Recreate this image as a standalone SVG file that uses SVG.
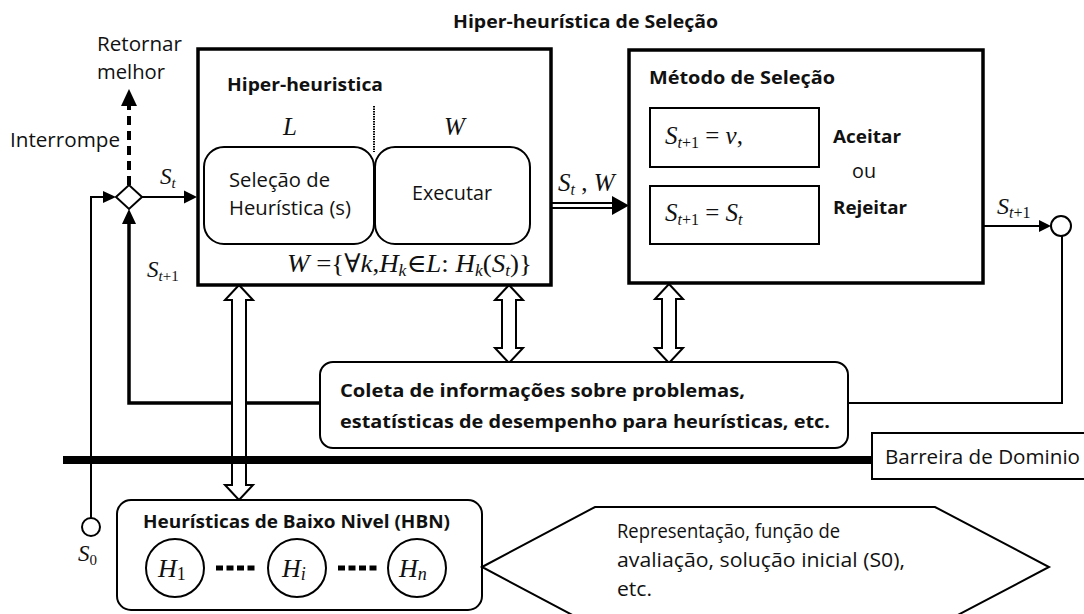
<svg xmlns="http://www.w3.org/2000/svg" width="1084" height="614" viewBox="0 0 1084 614">
<style>
.sans{font-family:"Open Sans",Lato,"Liberation Sans",sans-serif;fill:#111}
.b{font-weight:bold}
.m{font-family:"Liberation Serif","DejaVu Serif",serif;font-style:italic;fill:#111}
.mr{font-family:"Liberation Serif","DejaVu Serif",serif;font-style:normal;fill:#111}
.box{fill:#fff;stroke:#000;stroke-width:3.5}
.rbox{fill:#fff;stroke:#000;stroke-width:2}
.ln{fill:none;stroke:#000;stroke-width:2}
.hd{fill:#000;stroke:none}
.dbl{fill:#fff;stroke:#000;stroke-width:2;stroke-linejoin:miter}
</style>
<rect width="1084" height="614" fill="#fff"/>
<text class="sans b" x="453" y="28" font-size="18" textLength="265" lengthAdjust="spacingAndGlyphs">Hiper-heurística de Seleção</text>

<g id="connectors">
  <polyline class="ln" points="91,518 91,197 104,197"/>
  <polygon class="hd" points="103,191 116,197 103,203"/>
  <line class="ln" x1="142" y1="197" x2="186" y2="197"/>
  <polygon class="hd" points="184,190.5 197,197 184,203.5"/>
  <polyline fill="none" stroke="#000" stroke-width="3.5" points="320,403 129,403 129,222"/>
  <polygon class="hd" points="122,224 129,209 136,224"/>
  <line x1="129" y1="185" x2="129" y2="104" stroke="#000" stroke-width="4" stroke-dasharray="9 6"/>
  <polygon class="hd" points="121,106 129,89 137,106"/>
  <line class="ln" x1="551" y1="203" x2="614" y2="203" stroke-width="2.5"/>
  <line class="ln" x1="551" y1="208" x2="614" y2="208" stroke-width="2.5"/>
  <polygon class="hd" points="612,196 629,205.5 612,215"/>
  <line class="ln" x1="983" y1="226" x2="1042" y2="226"/>
  <polygon class="hd" points="1039,220 1051,226 1039,232"/>
  <polyline class="ln" points="1062,236 1062,403 848,403"/>
  <path class="dbl" d="M239,285 L253,300 L246,300 L246,485 L253,485 L239,500 L225,485 L232,485 L232,300 L225,300 Z"/>
  <path class="dbl" d="M509,285 L523,300 L516,300 L516,348 L523,348 L509,363 L495,348 L502,348 L502,300 L495,300 Z"/>
  <path class="dbl" d="M669,284 L683,299 L676,299 L676,348 L683,348 L669,363 L655,348 L662,348 L662,299 L655,299 Z"/>
  <line x1="63" y1="460" x2="873" y2="460" stroke="#000" stroke-width="8"/>
</g>

<g id="diamond">
  <polygon points="116,197 129,185 142,197 129,209" fill="#fff" stroke="#000" stroke-width="2"/>
</g>
<g id="labels-left">
  <text class="sans" x="97" y="51" font-size="19.5" textLength="85" lengthAdjust="spacingAndGlyphs">Retornar</text>
  <text class="sans" x="97" y="79" font-size="19.5" textLength="68" lengthAdjust="spacingAndGlyphs">melhor</text>
  <text class="sans" x="10" y="147" font-size="19.5" textLength="110" lengthAdjust="spacingAndGlyphs">Interrompe</text>
  <text class="m" x="160" y="184" font-size="23">S<tspan font-size="15" dy="4">t</tspan></text>
  <text class="m" x="147" y="277" font-size="23">S<tspan font-size="15" dy="4">t</tspan><tspan class="mr" font-size="15">+1</tspan></text>
</g>

<g id="s0">
  <circle cx="91" cy="527" r="9" fill="#fff" stroke="#000" stroke-width="2"/>
  <text class="m" x="78" y="561" font-size="23">S<tspan class="mr" font-size="15" dy="4">0</tspan></text>
</g>

<g id="hiper-heuristica">
  <rect class="box" x="198" y="49" width="353" height="236"/>
  <text class="sans b" x="227" y="91" font-size="18" textLength="156" lengthAdjust="spacingAndGlyphs">Hiper-heuristica</text>
  <line x1="374" y1="106" x2="374" y2="152" stroke="#000" stroke-width="2" stroke-dasharray="1.5 1"/>
  <text class="m" x="283" y="135" font-size="25">L</text>
  <text class="m" x="444" y="135" font-size="25">W</text>
  <rect class="rbox" x="204" y="147" width="170" height="97" rx="20"/>
  <rect class="rbox" x="375" y="147" width="155" height="97" rx="20"/>
  <text class="sans" x="229" y="187" font-size="19.5" textLength="101" lengthAdjust="spacingAndGlyphs">Seleção de</text>
  <text class="sans" x="229" y="215" font-size="19.5" textLength="122" lengthAdjust="spacingAndGlyphs">Heurística (s)</text>
  <text class="sans" x="412" y="200" font-size="19.5" textLength="80" lengthAdjust="spacingAndGlyphs">Executar</text>
  <text class="m" x="287" y="272" font-size="26" textLength="245" lengthAdjust="spacingAndGlyphs">W<tspan class="mr"> ={∀</tspan>k<tspan class="mr">,</tspan>H<tspan font-size="17" dy="4">k</tspan><tspan class="mr" dy="-4">∈</tspan>L<tspan class="mr">: </tspan>H<tspan font-size="17" dy="4">k</tspan><tspan class="mr" dy="-4">(</tspan>S<tspan font-size="17" dy="4">t</tspan><tspan class="mr" dy="-4">)}</tspan></text>
</g>

<text class="m" x="558" y="191" font-size="25">S<tspan font-size="16" dy="4">t</tspan><tspan class="mr" dy="-4"> , </tspan>W</text>

<g id="metodo-selecao">
  <rect class="box" x="629" y="50" width="354" height="233"/>
  <text class="sans b" x="649" y="84" font-size="18" textLength="186" lengthAdjust="spacingAndGlyphs">Método de Seleção</text>
  <rect class="rbox" x="650" y="108" width="169" height="59"/>
  <rect class="rbox" x="650" y="186" width="169" height="58"/>
  <text class="m" x="665" y="144" font-size="25">S<tspan font-size="16" dy="4">t</tspan><tspan class="mr" font-size="16">+1</tspan><tspan class="mr" dy="-4"> = </tspan>v<tspan class="mr">,</tspan></text>
  <text class="m" x="665" y="221" font-size="25">S<tspan font-size="16" dy="4">t</tspan><tspan class="mr" font-size="16">+1</tspan><tspan class="mr" dy="-4"> = </tspan>S<tspan font-size="16" dy="4">t</tspan></text>
  <text class="sans b" x="833" y="143" font-size="18" textLength="68" lengthAdjust="spacingAndGlyphs">Aceitar</text>
  <text class="sans" x="852" y="178" font-size="19.5" textLength="24" lengthAdjust="spacingAndGlyphs">ou</text>
  <text class="sans b" x="833" y="214" font-size="18" textLength="74" lengthAdjust="spacingAndGlyphs">Rejeitar</text>
</g>

<g id="output">
  <text class="m" x="997" y="214" font-size="24">S<tspan font-size="16" dy="4">t</tspan><tspan class="mr" font-size="16">+1</tspan></text>
  <circle cx="1061" cy="226" r="10" fill="#fff" stroke="#000" stroke-width="2"/>
</g>

<g id="coleta">
  <rect class="rbox" x="320" y="362" width="528" height="86" rx="13"/>
  <text class="sans b" x="340" y="397" font-size="18.5" textLength="405" lengthAdjust="spacingAndGlyphs">Coleta de informações sobre problemas,</text>
  <text class="sans b" x="340" y="428" font-size="18.5" textLength="490" lengthAdjust="spacingAndGlyphs">estatísticas de desempenho para heurísticas, etc.</text>
</g>

<g id="barreira">
  <rect x="872" y="433" width="220" height="46" fill="#fff" stroke="#000" stroke-width="2"/>
  <text class="sans" x="885" y="464" font-size="19.5" textLength="195" lengthAdjust="spacingAndGlyphs">Barreira de Dominio</text>
</g>

<g id="hbn">
  <rect class="rbox" x="117" y="500" width="365" height="110" rx="14"/>
  <text class="sans b" x="143" y="528" font-size="18" textLength="307" lengthAdjust="spacingAndGlyphs">Heurísticas de Baixo Nivel (HBN)</text>
  <circle cx="175" cy="568" r="29" fill="#fff" stroke="#000" stroke-width="2"/>
  <circle cx="297" cy="568" r="29" fill="#fff" stroke="#000" stroke-width="2"/>
  <circle cx="417" cy="568" r="29" fill="#fff" stroke="#000" stroke-width="2"/>
  <line x1="216" y1="568" x2="256" y2="568" stroke="#000" stroke-width="5" stroke-dasharray="7 3.5"/>
  <line x1="338" y1="568" x2="378" y2="568" stroke="#000" stroke-width="5" stroke-dasharray="7 3.5"/>
  <text class="m" x="158" y="577" font-size="26">H<tspan class="mr" font-size="18" dy="3">1</tspan></text>
  <text class="m" x="282" y="577" font-size="26">H<tspan font-size="18" dy="3">i</tspan></text>
  <text class="m" x="399" y="577" font-size="26">H<tspan font-size="18" dy="3">n</tspan></text>
</g>

<g id="dominio">
  <polygon points="482,567 595,507 935,507 1049,567 935,627 595,627" fill="#fff" stroke="#000" stroke-width="2"/>
  <text class="sans" x="617" y="538" font-size="19.5" textLength="223" lengthAdjust="spacingAndGlyphs">Representação, função de</text>
  <text class="sans" x="617" y="567" font-size="19.5" textLength="288" lengthAdjust="spacingAndGlyphs">avaliação, solução inicial (S0),</text>
  <text class="sans" x="617" y="596" font-size="19.5" textLength="35" lengthAdjust="spacingAndGlyphs">etc.</text>
</g>
</svg>
